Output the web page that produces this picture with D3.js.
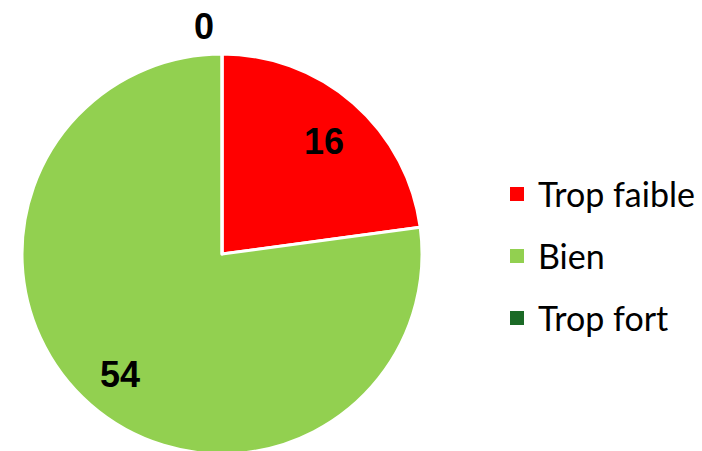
<!DOCTYPE html>
<html><head><meta charset="utf-8">
<script src="https://cdn.jsdelivr.net/npm/d3@7"></script>
<style>body{margin:0;background:#fff}</style>
</head><body>
<svg id="c" width="702" height="451"></svg>
<script>
const categories = ["Trop faible", "Bien", "Trop fort"];
const values = [16, 54, 0];
const colors = ["#FF0000", "#92D050", "#1B6A26"];

const svg = d3.select("#c");
const cx = 222, cy = 254, R = 200;
const pie = d3.pie().sort(null).value(d => d.v);
const data = pie(categories.map((c, i) => ({c, v: values[i], col: colors[i]})));
const arc = d3.arc().innerRadius(0).outerRadius(R);
const g = svg.append("g").attr("transform", `translate(${cx},${cy})`);
g.selectAll("path").data(data).join("path")
  .attr("d", arc).attr("fill", d => d.data.col)
  .attr("stroke", "#fff").attr("stroke-width", 3).attr("stroke-linejoin", "round");

const labelArc = d3.arc().innerRadius(155).outerRadius(155);
g.selectAll("text.lbl").data(data).join("text")
  .attr("class", "lbl")
  .attr("transform", d => {
    if (d.data.v === 0) return `translate(-18,${-R - 28})`;
    const [x, y] = labelArc.centroid(d);
    return `translate(${x + 0},${y + 4})`;
  })
  .attr("text-anchor", "middle").attr("dominant-baseline", "central")
  .style("font-family", "Liberation Sans, Arial, sans-serif")
  .style("font-weight", "bold").style("font-size", "36px").attr("fill", "#000")
  .text(d => d.data.v);

const leg = svg.append("g");
const ly = d3.scalePoint().domain(categories).range([194, 318]);
categories.forEach((c, i) => {
  leg.append("rect").attr("x", 510).attr("y", ly(c) - 7).attr("width", 14).attr("height", 14).attr("fill", colors[i]);
  leg.append("text").attr("x", 538).attr("y", ly(c) - 1).attr("dominant-baseline", "central")
    .style("font-family", "Lato, sans-serif").style("font-size", "34px").attr("fill", "#000")
    .text(c);
});
</script>
</body></html>
